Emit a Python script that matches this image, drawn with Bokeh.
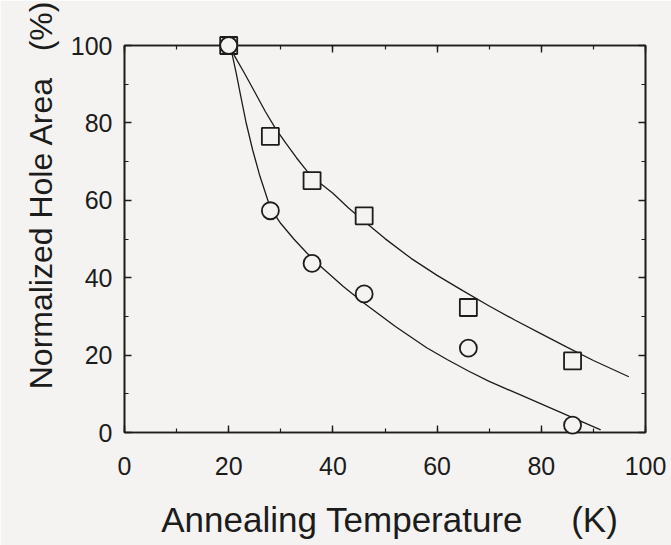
from bokeh.plotting import figure
from bokeh.models import Range1d, LinearAxis, SingleIntervalTicker, CustomJSTickFormatter
from bokeh.embed import file_html
from bokeh.resources import INLINE

# Measured points: annealing temperature (K) vs normalized hole area (%)
temps = [20, 28, 36, 46, 66, 86]
area_squares = [100, 76.5, 65.1, 56.0, 32.3, 18.5]
area_circles = [100, 57.3, 43.7, 35.8, 21.8, 1.9]

# Fitted curves through each series
fit_sq_t = [20, 21.5, 23, 25, 27, 29, 31, 33, 35, 37.5, 40, 43, 46, 50, 55, 60, 65, 70, 75, 80, 85, 90, 96.8]
fit_sq_a = [100, 96.4, 92.9, 88.0, 83.0, 78.5, 74.7, 71.0, 67.6, 64.5, 61.8, 58.0, 54.6, 50.1, 45.0, 40.6, 36.6, 32.7, 29.0, 25.5, 22.0, 18.6, 14.4]
fit_ci_t = [20, 20.7, 21.5, 22.3, 23.3, 24.6, 26, 28, 30, 32.5, 35, 38, 42, 46, 52, 58, 62, 66, 70, 76, 83.7, 91.4]
fit_ci_a = [100, 97.5, 92.5, 87.0, 80.3, 73.0, 66.2, 58.0, 54.0, 50.0, 46.4, 42.5, 37.7, 33.4, 27.4, 21.9, 18.8, 15.9, 13.2, 9.7, 5.2, 0.7]

NB = "\u00a0"
x_label = NB + "Annealing Temperature" + NB * 5 + "(K)"
# leading spaces lift the rotated title above the axis centre
y_label = NB * 10 + "Normalized Hole Area" + NB * 3 + "(%)"

PAPER = "#f5f3f1"
INK = "#1c1c1c"
FONT = "Liberation Sans"

W, H = 671, 545

p = figure(
    width=W, height=H,
    x_range=Range1d(0, 100), y_range=Range1d(0, 100),
    output_backend="svg", toolbar_location=None,
    x_axis_location=None, y_axis_location=None,
    min_border_left=124, min_border_right=26,
    min_border_top=45, min_border_bottom=113,
)
p.background_fill_color = PAPER
p.border_fill_color = PAPER
p.outline_line_color = INK
p.outline_line_width = 1.6
p.grid.visible = False


def make_axis(show_labels):
    ax = LinearAxis(ticker=SingleIntervalTicker(interval=20, num_minor_ticks=2))
    ax.axis_line_color = INK
    ax.axis_line_width = 1.6
    ax.major_tick_in = 7
    ax.major_tick_out = 0
    ax.minor_tick_in = 4
    ax.minor_tick_out = 0
    ax.major_tick_line_color = INK
    ax.minor_tick_line_color = INK
    ax.major_tick_line_width = 1.4
    ax.minor_tick_line_width = 1.2
    ax.major_label_text_font = FONT
    ax.major_label_text_color = INK
    ax.major_label_text_font_size = "25px"
    ax.axis_label_text_font = FONT
    ax.axis_label_text_color = INK
    ax.axis_label_text_font_style = "normal"
    if not show_labels:
        ax.formatter = CustomJSTickFormatter(code="return ''")
        ax.major_label_standoff = 0
    return ax


bottom = make_axis(True)
bottom.major_label_standoff = 24
bottom.axis_label = x_label
bottom.axis_label_text_font_size = "35px"
bottom.axis_label_standoff = 22

left = make_axis(True)
left.major_label_standoff = 12
left.axis_label = y_label
left.axis_label_text_font_size = "32px"
left.axis_label_standoff = 9

p.add_layout(bottom, "below")
p.add_layout(left, "left")
p.add_layout(make_axis(False), "above")
p.add_layout(make_axis(False), "right")

# fitted curves
p.line(fit_sq_t, fit_sq_a, line_color=INK, line_width=1.3)
p.line(fit_ci_t, fit_ci_a, line_color=INK, line_width=1.3)

# open markers, kept above the frame clip so edge points show whole
sq = p.scatter(temps, area_squares, marker="square", size=17,
               fill_color=PAPER, line_color=INK, line_width=1.8)
ci = p.scatter(temps, area_circles, marker="circle", size=17,
               fill_color=PAPER, line_color=INK, line_width=1.8)
sq.level = "overlay"
ci.level = "overlay"

open("out.html", "w").write(file_html(p, INLINE))
